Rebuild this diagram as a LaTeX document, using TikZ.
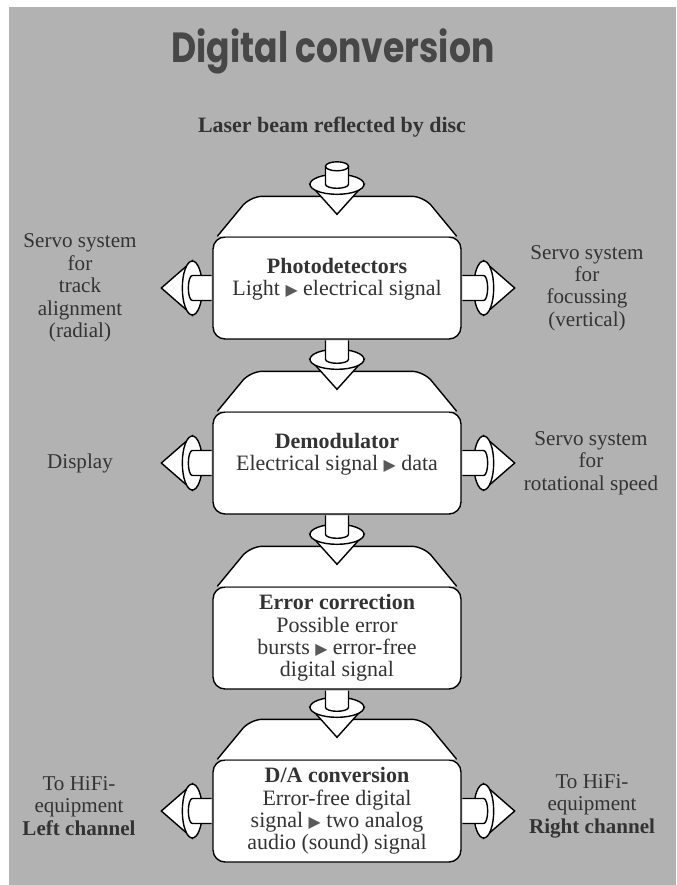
\documentclass[tikz,border=0pt]{standalone}
\usepackage{fontspec}
\setmainfont{Liberation Serif}
\newfontfamily\titlefont{Poppins}
\newfontfamily\symfont{DejaVu Sans}
\usetikzlibrary{calc}

\newcommand{\boxfont}{\fontsize{12.5}{12.8}\selectfont}
\newcommand{\sidefont}{\fontsize{12}{12.8}\selectfont}
\newcommand{\tri}{{\symfont\fontsize{9}{9}\selectfont\color{black!65}▶}}

\tikzset{
  unit/.style={draw, fill=white, rounded corners=0.24cm, minimum width=4.96cm, minimum height=2.04cm, inner sep=0pt, align=center, font=\boxfont, text=black!80},
  face/.style={draw, fill=white, rounded corners=0.24cm},
  part/.style={draw, fill=white},
  side/.style={align=center, font=\sidefont, text=black!80},
}

\begin{document}
\begin{tikzpicture}[x=0.02cm, y=0.02cm, line width=0.8pt]
\useasboundingbox (0,0) rectangle (676,-885);
\fill[black!30] (9,-7) rectangle (676,-885);

\node[anchor=base, font=\titlefont\bfseries\fontsize{24}{24}\selectfont, text=black!72, xscale=0.82] (title) at (333,-63) {Digital conversion};
\node[font=\boxfont\bfseries, text=black!80] (laser) at (332,-127) {Laser beam reflected by disc};

% the four units
\node[unit] (photo) at (337,-288) {\textbf{Photodetectors}\\Light \tri\ electrical signal\\ \mbox{}};
\node[unit] (demod) at (337,-463) {\textbf{Demodulator}\\Electrical signal \tri\ data\\ \mbox{}};
\node[unit] (errcorr) at (337,-638) {\textbf{Error correction}\\Possible error\\bursts \tri\ error-free\\digital signal};
\node[unit] (dac) at (337,-811) {\textbf{D/A conversion}\\Error-free digital\\signal \tri\ two analog\\audio (sound) signal};

\foreach \n in {photo,demod,errcorr,dac}
  \draw[face] ($(\n.north west)+(5,0)$) -- ($(\n.north west)+(38,40)$) -- ($(\n.north east)+(-38,40)$) -- ($(\n.north east)+(-5,0)$);

% side texts
\node[side] (track) at (80,-288) {Servo system\\for\\track\\alignment\\(radial)};
\node[side] (focus) at (587,-288) {Servo system\\for\\focussing\\(vertical)};
\node[side] (display) at (80,-463) {Display};
\node[side] (speed) at (591,-463) {Servo system\\for\\rotational speed};
\node[side] (hifil) at (79,-806) {To HiFi-\\equipment\\\textbf{Left channel}};
\node[side] (hifir) at (592,-806) {To HiFi-\\equipment\\\textbf{Right channel}};

% laser input
\coordinate (c) at ($(photo.north)+(0,52)$);
\coordinate (cap) at ($(photo.north)+(0,70)$);
\draw[part] ($(c)+(-27,0)$) -- ($(photo.north)+(0,22)$) -- ($(c)+(27,0)$) -- cycle;
\draw[part] (c) ellipse[x radius=27, y radius=10];
\draw[part] ($(cap)+(-11.5,0)$) -- ($(c)+(-11.5,0)$) arc[start angle=180, end angle=360, x radius=11.5, y radius=4] -- ($(cap)+(11.5,0)$);
\draw[part] (cap) ellipse[x radius=11.5, y radius=4.5];

% links between units
\foreach \up/\dn in {photo/demod,demod/errcorr,errcorr/dac} {
  \coordinate (c) at ($(\dn.north)+(0,52)$);
  \draw[part] ($(c)+(-27,0)$) -- ($(\dn.north)+(0,22)$) -- ($(c)+(27,0)$) -- cycle;
  \draw[part] (c) ellipse[x radius=27, y radius=10];
  \draw[part] ($(\up.south)+(-11.5,-0.8)$) -- ($(c)+(-11.5,0)$) arc[start angle=180, end angle=360, x radius=11.5, y radius=4] -- ($(\up.south)+(11.5,-0.8)$);
}

% outputs to the sides
\foreach \n in {photo,demod,dac} {
  \coordinate (r) at ($(\n.east)+(22,0)$);
  \draw[part] ($(r)+(0,27)$) -- ($(\n.east)+(53,0)$) -- ($(r)+(0,-27)$) -- cycle;
  \draw[part] (r) ellipse[x radius=10, y radius=27];
  \draw[part] ($(\n.east)+(0.8,12.5)$) -- ($(r)+(0,12.5)$) arc[start angle=90, end angle=-90, x radius=4, y radius=12.5] -- ($(\n.east)+(0.8,-12.5)$);
  \coordinate (l) at ($(\n.west)+(-20,0)$);
  \draw[part] ($(l)+(0,27)$) -- ($(\n.west)+(-51,0)$) -- ($(l)+(0,-27)$) -- cycle;
  \draw[part] (l) ellipse[x radius=10, y radius=27];
  \draw[part] ($(\n.west)+(-0.8,12.5)$) -- ($(l)+(0,12.5)$) arc[start angle=90, end angle=270, x radius=4, y radius=12.5] -- ($(\n.west)+(-0.8,-12.5)$);
}
\end{tikzpicture}
\end{document}
